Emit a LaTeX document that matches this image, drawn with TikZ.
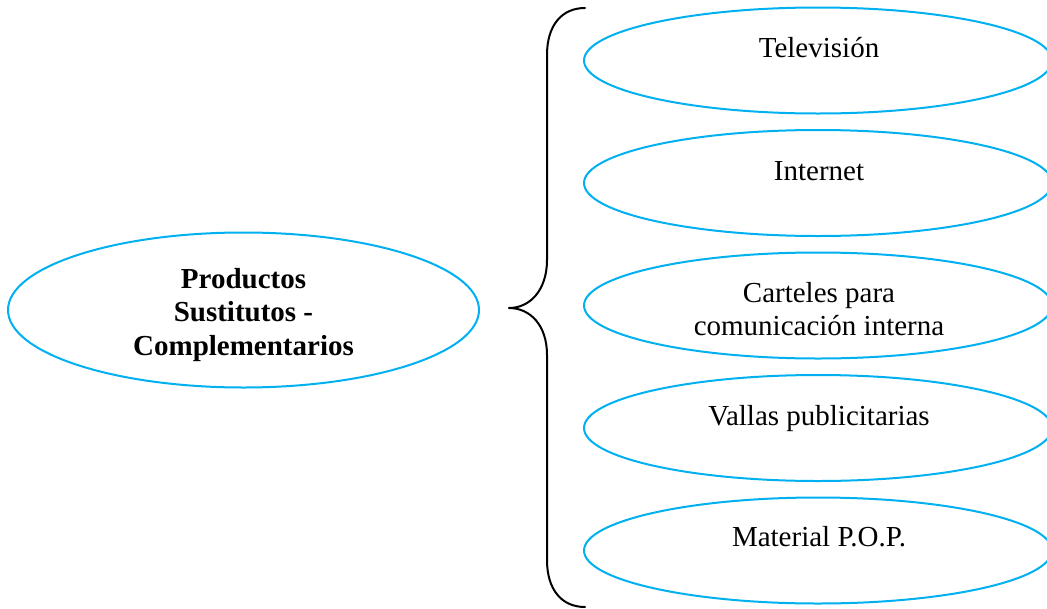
\documentclass[tikz,border=0pt]{standalone}
\usepackage{fontspec}
\setmainfont{Liberation Serif}
\usetikzlibrary{shapes.geometric}
\definecolor{wordblue}{RGB}{0,176,240}
\tikzset{
  oval/.style={draw=wordblue, line width=2pt, ellipse, inner sep=0pt},
  mainoval/.style={oval, minimum width=471pt, minimum height=155pt},
  itemoval/.style={oval, minimum width=468pt, minimum height=106pt},
  label/.style={font=\fontsize{29}{33.5}\selectfont, align=center, inner sep=0pt, anchor=base},
  brace/.style={draw=black, line width=2pt, line cap=round, line join=round}
}
\begin{document}
\begin{tikzpicture}[x=1pt, y=-1pt]
  \useasboundingbox (0,0) rectangle (1047,608);
  \clip (0,0) rectangle (1047,608);

  % central topic (anchor=base sits on the last line)
  \node[mainoval] (main) at (243.5,310) {};
  \node[label, font=\fontsize{29}{33.5}\selectfont\bfseries]
    (maintext) at (243.5,355) {Productos\\Sustitutos -\\Complementarios};

  % list of items
  \node[itemoval] (tv)  at (818,60.5) {};
  \node[itemoval] (web) at (818,183) {};
  \node[itemoval] (car) at (818,305.5) {};
  \node[itemoval] (val) at (818,428) {};
  \node[itemoval] (pop) at (818,550.5) {};

  \node[label] (tvtext)  at (819,57)  {Televisión};
  \node[label] (webtext) at (819,180) {Internet};
  \begin{scope}
    % the text box is shorter than its two lines: the second is cut off
    \clip (590,260) rectangle (1040,335.5);
    \node[label] (cartext) at (819,335.5) {Carteles para\\comunicación interna};
  \end{scope}
  \node[label] (valtext) at (819,425) {Vallas publicitarias};
  \node[label] (poptext) at (819,546) {Material P.O.P.};

  % curly brace grouping the items
  \coordinate (btop) at (585,8);
  \coordinate (btip) at (509,308);
  \coordinate (bbot) at (585,607);
  \draw[brace] (btop) .. controls (562,8) and (547,25) .. (547,55)
    -- (547,260) .. controls (547,290) and (530,308) .. (btip)
    .. controls (530,308) and (547,325) .. (547,355)
    -- (547,560) .. controls (547,590) and (562,607) .. (bbot);
\end{tikzpicture}
\end{document}
